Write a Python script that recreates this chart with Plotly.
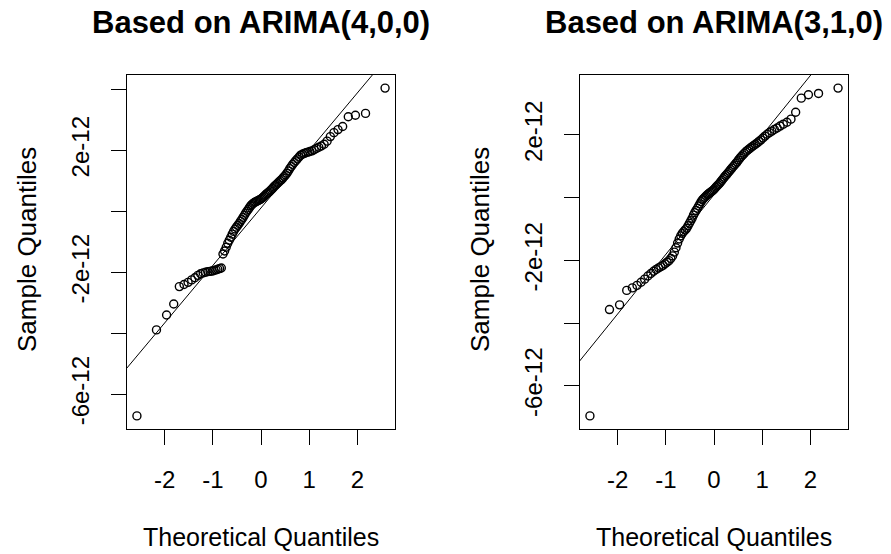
import plotly.graph_objects as go
from statistics import NormalDist

SCALE = 1e-12
N = 100

# Sorted sample quantiles (units of 1e-12)
left_sample = [
    -6.71, -3.89, -3.40, -3.04, -2.47, -2.40, -2.33, -2.25, -2.18, -2.10,
    -2.05, -2.02, -2.00, -1.98, -1.97, -1.96, -1.94, -1.92, -1.90, -1.88,
    -1.86, -1.40, -1.30, -1.18, -1.05, -0.95, -0.85, -0.75, -0.66, -0.58,
    -0.52, -0.46, -0.40, -0.33, -0.27, -0.20, -0.13, -0.06, 0.00, 0.06,
    0.12, 0.18, 0.22, 0.26, 0.29, 0.31, 0.33, 0.35, 0.37, 0.39,
    0.42, 0.45, 0.49, 0.53, 0.57, 0.60, 0.63, 0.67, 0.71, 0.75,
    0.80, 0.84, 0.88, 0.92, 0.96, 1.00, 1.04, 1.09, 1.14, 1.19,
    1.25, 1.32, 1.40, 1.47, 1.54, 1.60, 1.66, 1.72, 1.78, 1.84,
    1.87, 1.90, 1.92, 1.94, 1.96, 1.98, 2.02, 2.06, 2.10, 2.14,
    2.20, 2.30, 2.45, 2.58, 2.68, 2.78, 3.10, 3.15, 3.21, 4.04,
]
right_sample = [
    -6.96, -3.57, -3.42, -2.96, -2.88, -2.80, -2.70, -2.60, -2.50, -2.42,
    -2.35, -2.29, -2.24, -2.20, -2.16, -2.11, -2.06, -2.01, -1.94, -1.86,
    -1.74, -1.60, -1.45, -1.32, -1.22, -1.14, -1.08, -1.03, -0.98, -0.90,
    -0.82, -0.74, -0.66, -0.56, -0.48, -0.41, -0.34, -0.27, -0.20, -0.13,
    -0.07, -0.03, 0.01, 0.05, 0.09, 0.12, 0.15, 0.18, 0.21, 0.24,
    0.28, 0.33, 0.37, 0.41, 0.45, 0.50, 0.55, 0.60, 0.65, 0.70,
    0.74, 0.79, 0.84, 0.89, 0.94, 0.99, 1.04, 1.09, 1.14, 1.20,
    1.26, 1.31, 1.36, 1.41, 1.46, 1.50, 1.54, 1.58, 1.62, 1.66,
    1.70, 1.74, 1.79, 1.84, 1.90, 1.96, 2.02, 2.07, 2.12, 2.17,
    2.22, 2.28, 2.34, 2.40, 2.50, 2.72, 3.17, 3.28, 3.32, 3.49,
]
# Reference line (intercept, slope) in units of 1e-12
left_line = (0.11, 1.886)
right_line = (0.09, 1.90)

titles = ["Based on ARIMA(4,0,0)", "Based on ARIMA(3,1,0)"]
x_tickvals = [-2, -1, 0, 1, 2]
x_ticktext = ["-2", "-1", "0", "1", "2"]
left_y_tickvals = [-6, -4, -2, 0, 2, 4]
left_y_ticktext = ["-6e-12", "", "-2e-12", "", "2e-12", ""]
right_y_tickvals = [-6, -4, -2, 0, 2]
right_y_ticktext = ["-6e-12", "", "-2e-12", "", "2e-12"]

theo = [NormalDist().inv_cdf((i + 0.5) / N) for i in range(N)]

FONT = "Liberation Sans, Arial, sans-serif"
W, H = 891, 554
YDOM = [1 - 429 / H, 1 - 75 / H]
XDOMS = [[127 / W, 395 / W], [580 / W, 848 / W]]


def rng(v):
    lo, hi = min(v), max(v)
    pad = 0.04 * (hi - lo)
    return [lo - pad, hi + pad]


fig = go.Figure()
panels = [
    (left_sample, left_line, left_y_tickvals, left_y_ticktext),
    (right_sample, right_line, right_y_tickvals, right_y_ticktext),
]
for k, (samp, line, ytv, ytt) in enumerate(panels):
    xa = "x" if k == 0 else "x2"
    ya = "y" if k == 0 else "y2"
    xr = rng(theo)
    yr = rng(samp)
    fig.add_trace(go.Scatter(
        x=theo, y=[v * SCALE for v in samp], mode="markers",
        marker=dict(symbol="circle-open", size=8, color="black",
                    line=dict(width=1.4, color="black")),
        xaxis=xa, yaxis=ya, showlegend=False, hoverinfo="skip"))
    a, b = line
    fig.add_trace(go.Scatter(
        x=[xr[0] - 1, xr[1] + 1],
        y=[(a + b * (xr[0] - 1)) * SCALE, (a + b * (xr[1] + 1)) * SCALE],
        mode="lines", line=dict(color="black", width=1),
        xaxis=xa, yaxis=ya, showlegend=False, hoverinfo="skip"))
    axis_common = dict(showline=True, mirror=True, linecolor="black", linewidth=1,
                       ticks="outside", ticklen=15, tickcolor="black", tickwidth=1,
                       showgrid=False, zeroline=False,
                       tickfont=dict(family=FONT, size=24, color="black"))
    fig.update_layout(**{
        ("xaxis" if k == 0 else "xaxis2"): dict(
            domain=XDOMS[k], range=xr, anchor=ya, tickvals=x_tickvals,
            ticktext=x_ticktext, ticklabelstandoff=14, **axis_common),
        ("yaxis" if k == 0 else "yaxis2"): dict(
            domain=YDOM, range=[v * SCALE for v in yr], anchor=xa,
            tickvals=[v * SCALE for v in ytv], ticktext=ytt, tickangle=-90,
            ticklabelstandoff=12, **axis_common),
    })
    cx = (XDOMS[k][0] + XDOMS[k][1]) / 2
    fig.add_annotation(text="<b>" + titles[k] + "</b>", x=cx, y=1 - 22 / H,
                       xref="paper", yref="paper", showarrow=False,
                       xanchor="center", yanchor="middle",
                       font=dict(family=FONT, size=31, color="black"))
    fig.add_annotation(text="Theoretical Quantiles", x=cx, y=1 - 537 / H,
                       xref="paper", yref="paper", showarrow=False,
                       xanchor="center", yanchor="middle",
                       font=dict(family=FONT, size=25, color="black"))
    lab_x = 27 if k == 0 else 480
    fig.add_annotation(text="Sample Quantiles", x=lab_x / W, y=1 - 250 / H,
                       xref="paper", yref="paper", showarrow=False, textangle=-90,
                       xanchor="center", yanchor="middle",
                       font=dict(family=FONT, size=26, color="black"))

fig.update_layout(width=W, height=H, margin=dict(l=0, r=0, t=0, b=0),
                  paper_bgcolor="white", plot_bgcolor="white")
fig.write_html("out.html")
